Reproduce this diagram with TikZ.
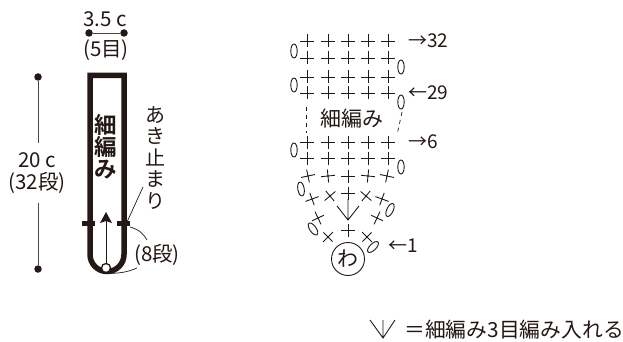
\documentclass[tikz,border=0pt]{standalone}
\usepackage{fontspec}
\setmainfont{Noto Sans CJK JP}
\newfontfamily\cjkbold[BoldFont={Noto Sans CJK JP Bold}]{Noto Sans CJK JP}
\definecolor{ink}{HTML}{231815}
\newcommand{\crs}[3]{\draw[stitch,shift={(#1,#2)},rotate=#3] (-7,0) -- (7,0) (0,-6.5) -- (0,6.5);}
\newcommand{\chn}[3]{\draw[stitch,shift={(#1,#2)},rotate=#3] (0,0) ellipse [x radius=3.2,y radius=7];}
\tikzset{
  x=1pt,y=-1pt,
  stitch/.style={draw=ink,line width=0.9pt},
  lab/.style={text=ink,inner sep=0pt,font=\fontsize{20.5}{22}\selectfont},
  smalllab/.style={text=ink,inner sep=0pt,font=\fontsize{19}{20}\selectfont},
  dotn/.style={circle,fill=ink,inner sep=0pt,minimum size=7.5pt},
  dimline/.style={draw=ink!80,line width=0.8pt},
  lead/.style={draw=ink,line width=0.7pt},
  band/.style={draw=ink,line width=5.5pt},
  stopmark/.style={draw=ink,line width=5pt}
}
\begin{document}
\begin{tikzpicture}
\useasboundingbox (0,0) rectangle (623,342);
% width dimension
\node[dotn] (wl) at (89,33) {};
\node[dotn] (wr) at (124,33) {};
\draw[dimline] (wl) -- (wr);
\node[lab] (wt) at (105,19) {3.5 c};
\node[lab] (wb) at (106,50) {(5目)};
% height dimension
\node[dotn] (ht) at (38,77) {};
\node[dotn] (hb) at (38,269) {};
\coordinate (hta) at (38,143);
\coordinate (hba) at (38,203);
\draw[dimline] (ht) -- (hta);
\draw[dimline] (hba) -- (hb);
\node[lab] (hl) at (37,160) {20 c};
\node[lab] (hm) at (37,183) {(32段)};
% strip
\draw[band] (90,254.5) -- (90,75.5) -- (124,75.5) -- (124,254.5) arc[start angle=0,end angle=180,radius=17];
\draw[stopmark] (82,223) -- (95,223);
\draw[stopmark] (117,223) -- (130,223);
\node[circle,draw=ink,fill=white,line width=1.3pt,minimum size=9pt,inner sep=0pt] (ring) at (106,268) {};
\coordinate (arrowtip) at (106,212);
\draw[draw=ink,line width=0.9pt] (ring) -- (106,221);
\fill[ink] (arrowtip) -- (112,223) -- (106,221) -- (100,223) -- cycle;
\node[text=ink,inner sep=0pt,font=\fontsize{22.5}{22}\selectfont\bfseries\cjkbold,align=center] (title) at (106,147) {細\\編\\み};
\node[text=ink,inner sep=0pt,font=\fontsize{20}{21.5}\selectfont,align=center] (stop) at (155,158) {あ\\き\\止\\ま\\り};
\coordinate (stopa) at (143,187);
\coordinate (stopb) at (127,222);
\draw[lead] (stopa) -- (stopb);
\node[lab] (eight) at (157,255) {(8段)};
\coordinate (c1) at (130,227);
\coordinate (c2) at (147,240);
\draw[lead] (c1) .. controls (138,229) and (144,234) .. (c2);
\coordinate (c3) at (106,273);
\coordinate (c4) at (137,268);
\draw[lead] (c3) .. controls (118,274) and (128,272) .. (c4);
% chart rows
\foreach \y in {41,58,77,93,142,158}{
  \foreach \x in {307,328,348,368,388}{\crs{\x}{\y}{0}}
}
\crs{308}{176}{12}\crs{328}{176}{6}\crs{348}{176}{0}\crs{368}{176}{-6}\crs{387}{176}{-12}
\crs{312}{199}{20}\crs{330}{196}{40}\crs{348}{193}{0}\crs{366}{196}{-40}\crs{382}{199}{-20}
\crs{318}{218}{-65}\crs{377}{218}{65}
\crs{348}{230}{0}\crs{328}{237}{45}\crs{367}{237}{-45}
% increase
\coordinate (vb) at (348,220);
\draw[stitch] (337,206) -- (vb) -- (359,206) (348,199) -- (vb);
% chains
\chn{294}{51}{0}\chn{401}{67}{0}\chn{294}{85}{0}\chn{401}{102}{0}\chn{294}{150}{0}\chn{401}{167}{0}
\chn{301}{189}{10}\chn{390}{210}{-25}\chn{313}{229}{35}\chn{373}{247}{-45}
% dashed
\draw[stitch,line width=0.7pt,dash pattern=on 4pt off 4pt] (306,107) -- (306,133);
\draw[stitch,line width=0.7pt,dash pattern=on 4pt off 4pt] (402,112) -- (397,135);
\node[text=ink,inner sep=0pt,font=\fontsize{21}{24}\selectfont] (mid) at (352,119) {細編み};
\node[smalllab,anchor=west] (r32) at (408,41) {→32};
\node[smalllab,anchor=west] (r29) at (408,93) {←29};
\node[smalllab,anchor=west] (r6) at (408,142) {→6};
\node[smalllab,anchor=west] (r1) at (388,246) {←1};
\node[circle,draw=ink,line width=0.9pt,minimum size=33pt,inner sep=0pt,text=ink,font=\fontsize{21}{22}\selectfont] (wa) at (348,259) {わ};
% legend
\coordinate (lb) at (383,338);
\draw[stitch] (370,320) -- (lb) -- (395,320) (383,320) -- (lb);
\node[text=ink,inner sep=0pt,anchor=east,font=\fontsize{20.8}{22}\selectfont] (leg) at (624,330) {＝細編み3目編み入れる};
\end{tikzpicture}
\end{document}
